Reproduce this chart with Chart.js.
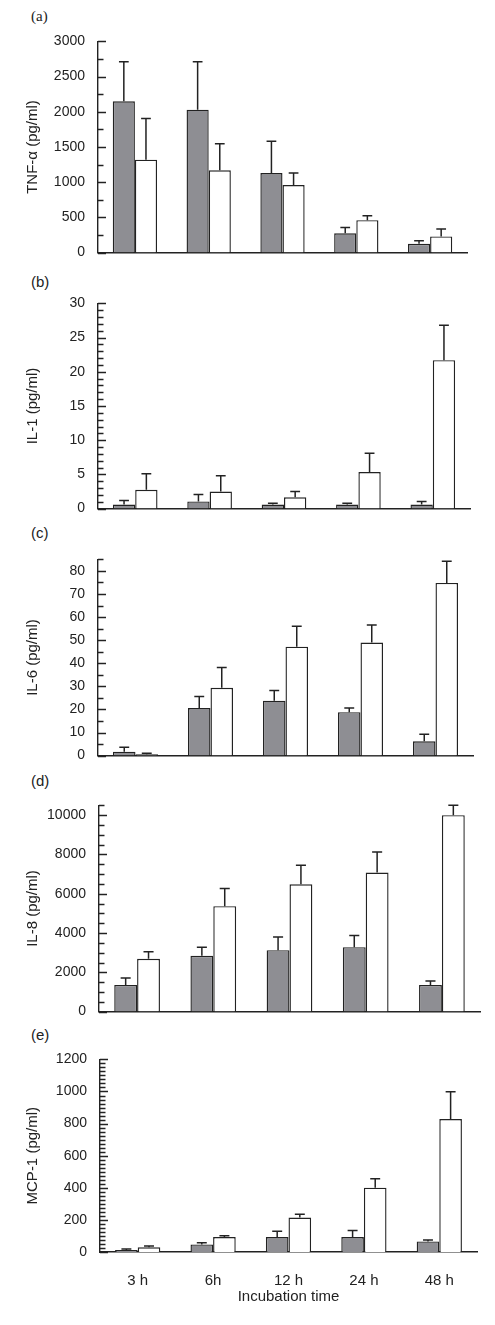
<!DOCTYPE html>
<html>
<head>
<meta charset="utf-8">
<script src="https://cdn.jsdelivr.net/npm/chart.js@4.4.1/dist/chart.umd.min.js"></script>
<style>
  body { margin: 0; background: #fff; }
  #page { position: relative; width: 495px; height: 1325px; }
  canvas { position: absolute; left: 0; }
  .tag { position: absolute; left: 31px; font: 15px "Liberation Sans", Arial, sans-serif; color: #222; }
</style>
</head>
<body>
<div id="page">
  <div class="tag" style="top:8px; font-family:'Liberation Serif', 'DejaVu Serif', serif;">(a)</div>
  <div class="tag" style="top:273px;">(b)</div>
  <div class="tag" style="top:524px;">(c)</div>
  <div class="tag" style="top:772px;">(d)</div>
  <div class="tag" style="top:1026px;">(e)</div>
  <canvas id="chartA" width="495" height="238" style="top:28px"></canvas>
  <canvas id="chartB" width="495" height="232" style="top:290px"></canvas>
  <canvas id="chartC" width="495" height="223" style="top:546px"></canvas>
  <canvas id="chartD" width="495" height="233" style="top:792px"></canvas>
  <canvas id="chartE" width="495" height="261" style="top:1046px"></canvas>
</div>
<script>
// Incubation times
var categories = ["3 h", "6h", "12 h", "24 h", "48 h"];

// (a) TNF-alpha, pg/ml (mean and upper SD)
var tnfGray = [2150, 2030, 1130, 275, 125];
var tnfGraySd = [560, 680, 450, 80, 45];
var tnfWhite = [1320, 1170, 960, 460, 230];
var tnfWhiteSd = [585, 375, 170, 65, 105];
var tnfTicks = [0, 500, 1000, 1500, 2000, 2500, 3000];

// (b) IL-1
var il1Gray = [0.6, 1.05, 0.6, 0.6, 0.6];
var il1GraySd = [0.6, 1.0, 0.2, 0.2, 0.45];
var il1White = [2.75, 2.5, 1.65, 5.35, 21.7];
var il1WhiteSd = [2.35, 2.3, 0.85, 2.75, 5.1];
var il1Ticks = [0, 5, 10, 15, 20, 25, 30];

// (c) IL-6
var il6Gray = [1.7, 20.6, 23.8, 18.8, 6.2];
var il6GraySd = [1.9, 5.0, 4.4, 1.8, 3.0];
var il6White = [0.6, 29.4, 47.2, 49.0, 74.8];
var il6WhiteSd = [0.4, 8.8, 8.8, 7.6, 9.4];
var il6Ticks = [0, 10, 20, 30, 40, 50, 60, 70, 80];

// (d) IL-8
var il8Gray = [1360, 2840, 3130, 3280, 1360];
var il8GraySd = [350, 440, 670, 600, 200];
var il8White = [2690, 5370, 6480, 7080, 10000];
var il8WhiteSd = [360, 900, 970, 1050, 510];
var il8Ticks = [0, 2000, 4000, 6000, 8000, 10000];

// (e) MCP-1
var mcpGray = [12, 47, 93, 93, 66];
var mcpGraySd = [7, 11, 37, 41, 8];
var mcpWhite = [29, 93, 215, 401, 828];
var mcpWhiteSd = [8, 8, 20, 55, 170];
var mcpTicks = [0, 200, 400, 600, 800, 1000, 1200];

var FONT = '"Liberation Sans", Arial, Helvetica, sans-serif';
var INK = "#222";
var GRAY = "#8e8e93";

// error bars (upward only) and inward ticks on the y axis
function makeExtras(tickList, minorStep) {
    return {
        id: "extras",
        afterDraw: function (chart) {
            var ctx = chart.ctx;
            var y = chart.scales.y;
            ctx.save();
            ctx.strokeStyle = INK;
            ctx.lineWidth = 1.5;
            chart.data.datasets.forEach(function (ds, i) {
                chart.getDatasetMeta(i).data.forEach(function (bar, j) {
                    var top = y.getPixelForValue(ds.data[j] + ds.sd[j]);
                    var cap = bar.width * 0.22;
                    ctx.beginPath();
                    ctx.moveTo(bar.x, bar.y);
                    ctx.lineTo(bar.x, top);
                    ctx.moveTo(bar.x - cap, top);
                    ctx.lineTo(bar.x + cap, top);
                    ctx.stroke();
                });
            });
            var left = chart.chartArea.left;
            for (var k = 0; k * minorStep <= y.max + 1e-9; k++) {
                var v = k * minorStep;
                var py = Math.round(y.getPixelForValue(v)) + 0.5;
                var len = tickList.indexOf(v) >= 0 ? 8 : 5.5;
                ctx.beginPath();
                ctx.moveTo(left, py);
                ctx.lineTo(left + len, py);
                ctx.stroke();
            }
            ctx.restore();
        }
    };
}

function makeChart(id, title, gray, graySd, white, whiteSd, tickList, max, minorStep, axisLeft, padRight, showX) {
    var ctx = document.getElementById(id).getContext("2d");
    return new Chart(ctx, {
        type: "bar",
        data: {
            labels: categories,
            datasets: [
                { data: gray, sd: graySd, backgroundColor: GRAY, borderColor: INK, borderWidth: 1.4, borderSkipped: "start" },
                { data: white, sd: whiteSd, backgroundColor: "#fff", borderColor: INK, borderWidth: 1.4, borderSkipped: "start" }
            ]
        },
        plugins: [makeExtras(tickList, minorStep)],
        options: {
            responsive: false,
            animation: false,
            layout: { padding: { top: 12, left: 0, right: padRight, bottom: showX ? 0 : 10 } },
            datasets: { bar: { categoryPercentage: 0.6, barPercentage: 1.0 } },
            plugins: {
                legend: { display: false },
                tooltip: { enabled: false }
            },
            scales: {
                x: {
                    grid: { display: false },
                    border: { display: true, color: INK, width: 1.4 },
                    ticks: { display: showX, color: INK, padding: 12, maxRotation: 0, font: { family: FONT, size: 15 } },
                    title: { display: showX, text: "Incubation time", color: INK, padding: { top: 0, bottom: 1 }, font: { family: FONT, size: 15 } },
                    afterFit: function (s) { s.height = showX ? 55 : 0; }
                },
                y: {
                    min: 0,
                    max: max,
                    grid: { display: false },
                    border: { display: true, color: INK, width: 1.4 },
                    afterBuildTicks: function (s) {
                        s.ticks = tickList.map(function (v) { return { value: v }; });
                    },
                    ticks: {
                        color: INK, padding: 5, font: { family: FONT, size: 14 },
                        callback: function (v) { return String(v); }
                    },
                    title: { display: true, text: title, color: INK, padding: { top: 24, bottom: 0 }, font: { family: FONT, size: 15 } },
                    afterFit: function (s) { s.width = axisLeft; }
                }
            }
        }
    });
}

document.addEventListener("DOMContentLoaded", function () {
    makeChart("chartA", "TNF-α (pg/ml)", tnfGray, tnfGraySd, tnfWhite, tnfWhiteSd, tnfTicks, 3000, 250, 98, 28, false);
    makeChart("chartB", "IL-1 (pg/ml)", il1Gray, il1GraySd, il1White, il1WhiteSd, il1Ticks, 30, 1, 98, 25, false);
    makeChart("chartC", "IL-6 (pg/ml)", il6Gray, il6GraySd, il6White, il6WhiteSd, il6Ticks, 85, 5, 98, 22, false);
    makeChart("chartD", "IL-8 (pg/ml)", il8Gray, il8GraySd, il8White, il8WhiteSd, il8Ticks, 10500, 500, 99, 15, false);
    makeChart("chartE", "MCP-1 (pg/ml)", mcpGray, mcpGraySd, mcpWhite, mcpWhiteSd, mcpTicks, 1200, 25, 100, 18, true);
});
</script>
</body>
</html>
